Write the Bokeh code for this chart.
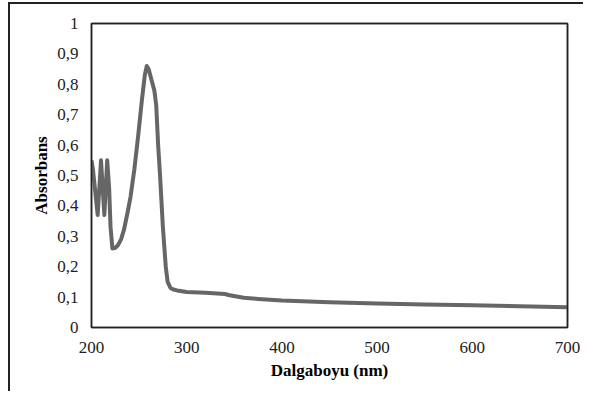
from bokeh.plotting import figure
from bokeh.embed import file_html
from bokeh.resources import INLINE
from bokeh.models import FixedTicker, Range1d, LinearAxis

wavelength = [200, 201.5, 206.5, 210, 213.5, 216.5, 218.5, 220, 222, 225, 228, 231, 234, 238,
              241, 245, 249, 253, 256, 258, 260, 263, 266, 268, 270, 272, 275, 278, 280, 283,
              286, 290, 300, 320, 340, 345, 360, 375, 400, 450, 500, 525, 550, 600, 650, 700]
absorbance = [0.55, 0.52, 0.37, 0.55, 0.37, 0.55, 0.46, 0.33, 0.26, 0.262, 0.272, 0.29, 0.32, 0.38,
              0.43, 0.52, 0.63, 0.75, 0.83, 0.86, 0.85, 0.815, 0.78, 0.73, 0.60, 0.50, 0.33, 0.20,
              0.15, 0.13, 0.125, 0.122, 0.117, 0.114, 0.110, 0.106, 0.098, 0.094, 0.089, 0.083,
              0.079, 0.077, 0.076, 0.073, 0.070, 0.067]

x_ticks = [200, 300, 400, 500, 600, 700]
y_ticks = [0, 0.1, 0.2, 0.3, 0.4, 0.5, 0.6, 0.7, 0.8, 0.9, 1.0]
y_labels = ["0", "0,1", "0,2", "0,3", "0,4", "0,5", "0,6", "0,7", "0,8", "0,9", "1"]

p = figure(width=575, height=389, output_backend="svg", toolbar_location=None,
           x_range=Range1d(200, 700), y_range=Range1d(0, 1),
           min_border_left=81, min_border_top=19, min_border_right=18, min_border_bottom=66)
p.styles = {"border-left": "2px solid #222", "border-top": "2px solid #222",
            "margin-left": "8px", "margin-top": "2px"}

p.line(wavelength, absorbance, line_color="#666666", line_width=4, line_join="round")

p.grid.visible = False
p.outline_line_color = "#222222"
p.outline_line_width = 1.5

bottom_ax = p.below[0]
left_ax = p.left[0]

top_ax = LinearAxis(ticker=FixedTicker(ticks=[]), major_label_text_font_size="0px")
right_ax = LinearAxis(ticker=FixedTicker(ticks=[]), major_label_text_font_size="0px")
for ax in (top_ax, right_ax):
    ax.axis_line_color = "#222222"
    ax.axis_line_width = 1.5
    ax.major_tick_in = 0
    ax.major_tick_out = 0
    ax.minor_tick_in = 0
    ax.minor_tick_out = 0
    ax.major_label_standoff = 0
p.add_layout(top_ax, "above")
p.add_layout(right_ax, "right")

for ax in (bottom_ax, left_ax):
    ax.axis_line_color = "#222222"
    ax.axis_line_width = 1.5
    ax.major_tick_in = 0
    ax.major_tick_out = 0
    ax.minor_tick_in = 0
    ax.minor_tick_out = 0
    ax.major_label_text_font = "Liberation Serif"
    ax.major_label_text_font_size = "17px"
    ax.major_label_text_color = "#222222"
    ax.axis_label_text_font = "Liberation Serif"
    ax.axis_label_text_font_size = "17px"
    ax.axis_label_text_font_style = "bold"
    ax.axis_label_text_color = "#000000"

bottom_ax.ticker = FixedTicker(ticks=x_ticks)
left_ax.ticker = FixedTicker(ticks=y_ticks)
left_ax.major_label_overrides = {t: l for t, l in zip(y_ticks, y_labels)}
bottom_ax.axis_label = "Dalgaboyu (nm)"
left_ax.axis_label = "Absorbans"
bottom_ax.major_label_standoff = 14
left_ax.major_label_standoff = 13
bottom_ax.axis_label_standoff = 5
left_ax.axis_label_standoff = 3

open("out.html", "w").write(file_html(p, INLINE))
